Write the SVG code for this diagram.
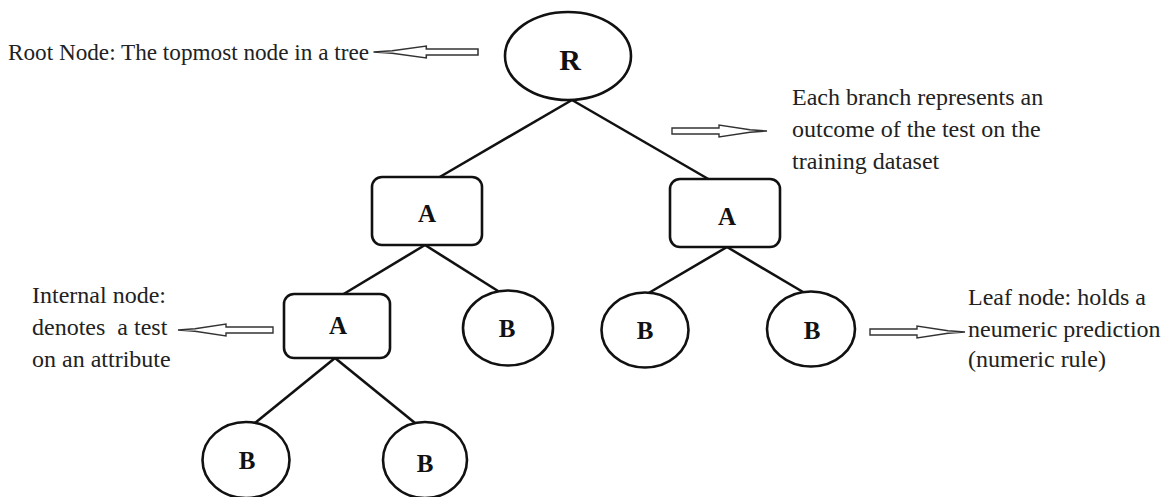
<svg xmlns="http://www.w3.org/2000/svg" width="1169" height="497" viewBox="0 0 1169 497">
<style>
.n{fill:#fff;stroke:#111;stroke-width:2.6}
.e{stroke:#111;stroke-width:2.6;fill:none}
.lbl{font-family:"Liberation Serif",serif;font-weight:bold;fill:#111;text-anchor:middle}
.t{font-family:"Liberation Serif",serif;font-size:24px;fill:#222}
.ar{fill:#fff;stroke:#333;stroke-width:1.4}
</style>
<defs>
<path id="arr" d="M0,-3 H47 V-6 L78,-1.2 L95,0 L78,1.2 L47,6 V3 H0 Z"/>
</defs>
<rect width="1169" height="497" fill="#fff"/>
<g id="connectors">
<line class="e" x1="572" y1="100" x2="438" y2="178"/>
<line class="e" x1="572" y1="100" x2="710" y2="180"/>
<line class="e" x1="425" y1="245" x2="342" y2="295"/>
<line class="e" x1="425" y1="245" x2="498" y2="291"/>
<line class="e" x1="727" y1="247" x2="647" y2="294"/>
<line class="e" x1="727" y1="247" x2="803" y2="292"/>
<line class="e" x1="335" y1="358" x2="255" y2="423"/>
<line class="e" x1="335" y1="358" x2="415" y2="423"/>
</g>
<g id="root">
<ellipse class="n" cx="568" cy="56" rx="63" ry="44"/>
<text class="lbl" x="570" y="70" font-size="30">R</text>
</g>
<g id="a-left">
<rect class="n" x="372" y="177" width="110" height="68" rx="10"/>
<text class="lbl" x="427" y="222" font-size="25">A</text>
</g>
<g id="a-right">
<rect class="n" x="670" y="179" width="110" height="68" rx="10"/>
<text class="lbl" x="727" y="225" font-size="25">A</text>
</g>
<g id="a-internal">
<rect class="n" x="284" y="294" width="106" height="64" rx="10"/>
<text class="lbl" x="338" y="334" font-size="25">A</text>
</g>
<g id="b1">
<ellipse class="n" cx="508" cy="328" rx="45" ry="37.5"/>
<text class="lbl" x="507" y="337" font-size="25">B</text>
</g>
<g id="b2">
<ellipse class="n" cx="645" cy="330" rx="43.5" ry="37.5"/>
<text class="lbl" x="645" y="339" font-size="25">B</text>
</g>
<g id="b3">
<ellipse class="n" cx="811" cy="329" rx="44" ry="37.5"/>
<text class="lbl" x="812" y="339" font-size="25">B</text>
</g>
<g id="b4">
<ellipse class="n" cx="246" cy="460" rx="43.5" ry="38"/>
<text class="lbl" x="247" y="469" font-size="25">B</text>
</g>
<g id="b5">
<ellipse class="n" cx="425" cy="460" rx="42" ry="38"/>
<text class="lbl" x="425" y="472" font-size="25">B</text>
</g>
<g id="annotations">
<text class="t" x="8" y="60" textLength="361" lengthAdjust="spacingAndGlyphs">Root Node: The topmost node in a tree</text>
<use href="#arr" class="ar" transform="translate(478,52) scale(-1.1,1)"/>
<text class="t" x="792" y="105">Each branch represents an</text>
<text class="t" x="792" y="137">outcome of the test on the</text>
<text class="t" x="792" y="169">training dataset</text>
<use href="#arr" class="ar" transform="translate(672,131)"/>
<text class="t" x="32" y="303">Internal node:</text>
<text class="t" x="32" y="335" xml:space="preserve">denotes  a test</text>
<text class="t" x="32" y="367">on an attribute</text>
<use href="#arr" class="ar" transform="translate(273,330) scale(-1,1)"/>
<text class="t" x="968" y="305">Leaf node: holds a</text>
<text class="t" x="968" y="337">neumeric prediction</text>
<text class="t" x="968" y="367">(numeric rule)</text>
<use href="#arr" class="ar" transform="translate(870,332)"/>
</g>
</svg>
